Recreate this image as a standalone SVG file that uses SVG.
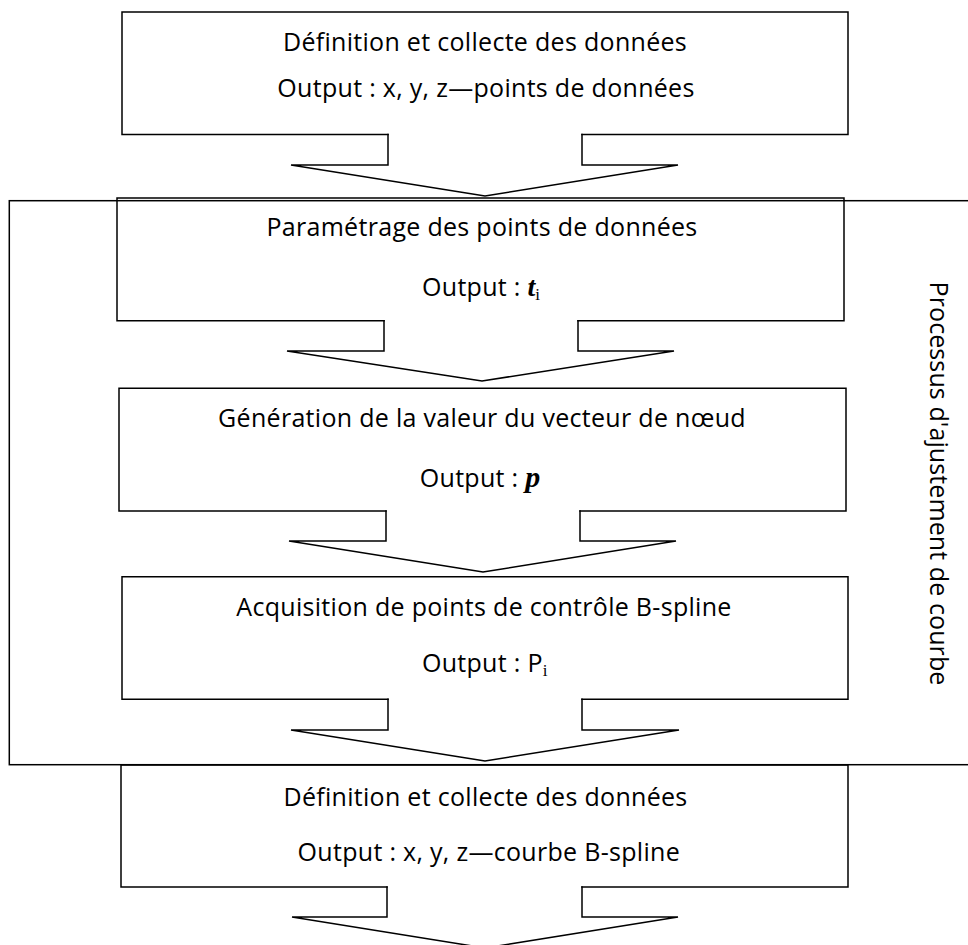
<svg xmlns="http://www.w3.org/2000/svg" width="968" height="945" viewBox="0 0 968 945">
<style>
.ln{fill:none;stroke:#000;stroke-width:1.5;stroke-linecap:square;stroke-linejoin:miter}
.t{font-family:"Open Sans","Noto Sans",sans-serif;font-size:25px;letter-spacing:0.3px;fill:#000;text-anchor:middle}
.m{font-family:"Liberation Serif",serif;font-weight:bold;font-style:italic;letter-spacing:0}
.sub{font-family:"Liberation Serif",serif;font-size:17px;letter-spacing:0}
</style>
<rect width="968" height="945" fill="#fff"/>
<g id="group-curve-fitting">
<rect class="ln" x="9.3" y="200.7" width="975" height="564"/>
<text class="t" transform="translate(929.5,483.5) rotate(90)" x="0" y="0" style="letter-spacing:0.1px">Processus d'ajustement de courbe</text>
</g>
<g id="node1">
<path class="ln" d="M388,134.5 H122 V12 H848 V134.5 H582"/>
<text class="t" x="485" y="51">Définition et collecte des données</text>
<text class="t" x="486" y="97">Output : x, y, z—points de données</text>
</g>
<g id="node2">
<path class="ln" d="M384,320.7 H117 V198 H844 V320.7 H578"/>
<text class="t" x="482" y="236">Paramétrage des points de données</text>
<text class="t" x="481" y="296">Output : <tspan class="m" font-size="28">t</tspan><tspan class="sub" dy="4">i</tspan></text>
</g>
<g id="node3">
<path class="ln" d="M386,511 H119 V388.3 H846 V511 H580"/>
<text class="t" x="482" y="427">Génération de la valeur du vecteur de nœud</text>
<text class="t" x="480" y="487.3">Output : <tspan class="m" font-size="30">p</tspan></text>
</g>
<g id="node4">
<path class="ln" d="M388,699.3 H122 V576.7 H848 V699.3 H582"/>
<text class="t" x="484" y="615.5">Acquisition de points de contrôle B-spline</text>
<text class="t" x="484.7" y="672">Output : P<tspan class="sub" dy="4">i</tspan></text>
</g>
<g id="node5">
<path class="ln" d="M387,887 H121 V765 H848 V887 H582"/>
<text class="t" x="485.5" y="805.5">Définition et collecte des données</text>
<text class="t" x="488.8" y="860.5">Output : x, y, z—courbe B-spline</text>
</g>
<g id="connectors">
<path class="ln" d="M388,134.5 V165 H291 L485,196 L678,165 H582 V134.5"/>
<path class="ln" d="M384,320.7 V351 H287 L482,381 L674,351 H578 V320.7"/>
<path class="ln" d="M386,511 V541 H289 L483,572 L676,541 H580 V511"/>
<path class="ln" d="M388,699.3 V730 H291 L485,761 L679,730 H582 V699.3"/>
<path class="ln" d="M387,887 V917 H292 L485,948 L678,917 H582 V887"/>
</g>
</svg>
